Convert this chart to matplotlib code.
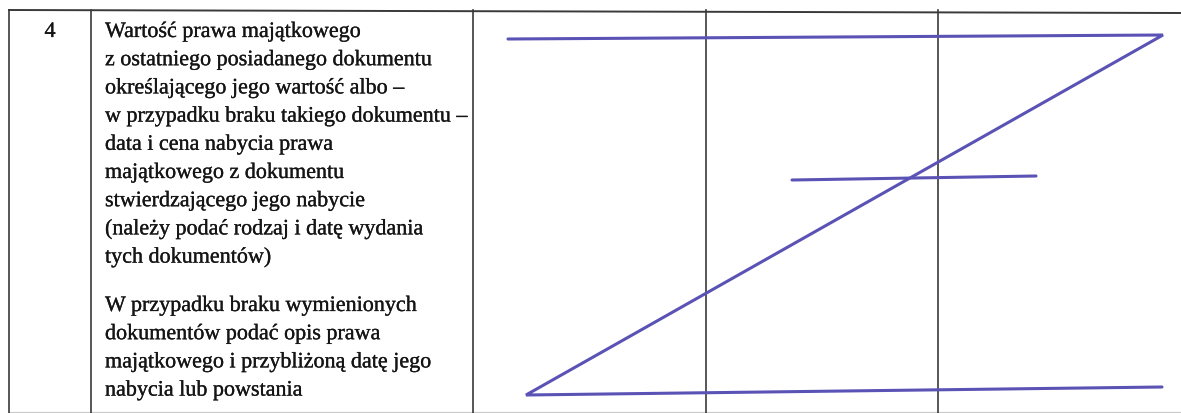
import matplotlib.pyplot as plt
import matplotlib.patheffects as pe

# Treść wiersza tabeli
row_number = "4"
paragraph_1 = [
    "Wartość prawa majątkowego",
    "z ostatniego posiadanego dokumentu",
    "określającego jego wartość albo –",
    "w przypadku braku takiego dokumentu –",
    "data i cena nabycia prawa",
    "majątkowego z dokumentu",
    "stwierdzającego jego nabycie",
    "(należy podać rodzaj i datę wydania",
    "tych dokumentów)",
]
paragraph_2 = [
    "W przypadku braku wymienionych",
    "dokumentów podać opis prawa",
    "majątkowego i przybliżoną datę jego",
    "nabycia lub powstania",
]

# Linie tabeli (w pikselach skanu)
column_x = [9, 91, 473, 706, 938]
top_border_x = [9, 1181]
top_border_y = [11, 14]

# Odręczne "Z" przekreślające puste pola
z_x = [508, 1163, 526, 1162]
z_y = [40, 36, 396, 388]
bar_x = [792, 1036]
bar_y = [181, 177]

W, H = 1181, 414
fig = plt.figure(figsize=(W / 100, H / 100), dpi=100)
ax = fig.add_axes([0, 0, 1, 1])
ax.set_xlim(0, W)
ax.set_ylim(H, 0)
ax.axis('off')

line_color = '#3a3a3a'
pen_color = '#5a52b5'

# tabela
ax.plot(top_border_x, top_border_y, color=line_color, lw=1.4)
ax.plot([column_x[0], W], [413, 413], color='#c8c8c8', lw=0.8)
for x in column_x:
    ax.plot([x, x], [top_border_y[0], H], color=line_color, lw=1.2)

# tekst (lekko pogrubiony jak na skanie)
font = dict(family='Liberation Serif', fontsize=15.9, color='#151515',
            path_effects=[pe.withStroke(linewidth=0.2, foreground='#151515')])
ax.text(50, 38, row_number, ha='center', va='baseline', **font)
step = 28.2
for i, line in enumerate(paragraph_1):
    ax.text(105, 38 + i * step, line, ha='left', va='baseline', **font)
for i, line in enumerate(paragraph_2):
    ax.text(105, 312 + i * step, line, ha='left', va='baseline', **font)

# przekreślenie
ax.plot(z_x, z_y, color=pen_color, lw=2.2, solid_joinstyle='miter', solid_capstyle='round')
ax.plot(bar_x, bar_y, color=pen_color, lw=2.2, solid_capstyle='round')

fig.savefig('out.png', dpi=100)
